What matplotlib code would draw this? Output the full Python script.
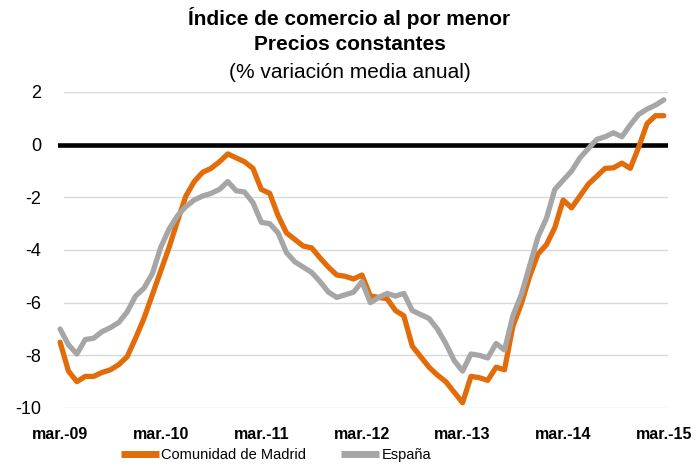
import matplotlib
matplotlib.use("Agg")
import matplotlib.pyplot as plt
from matplotlib.lines import Line2D
import numpy as np

plt.rcParams['font.family'] = ['Liberation Sans', 'DejaVu Sans']

tick_labels = ["mar.-09", "mar.-10", "mar.-11", "mar.-12", "mar.-13", "mar.-14", "mar.-15"]

madrid = [-7.5, -8.6, -9.0, -8.8, -8.8, -8.65, -8.55, -8.35, -8.05, -7.35,
          -6.6, -5.7, -4.8, -3.9, -2.9, -1.95, -1.4, -1.05, -0.9, -0.65,
          -0.35, -0.5, -0.65, -0.9, -1.7, -1.85, -2.7, -3.35, -3.6, -3.85,
          -3.92, -4.3, -4.65, -4.95, -5.0, -5.1, -4.95, -5.75, -5.8, -5.85,
          -6.3, -6.5, -7.65, -8.05, -8.45, -8.75, -9.0, -9.4, -9.8, -8.8,
          -8.85, -8.95, -8.45, -8.55, -6.9, -6.05, -5.0, -4.15, -3.8, -3.15,
          -2.1, -2.4, -1.95, -1.5, -1.2, -0.9, -0.88, -0.7, -0.9, -0.1,
          0.8, 1.1, 1.1]

espana = [-7.0, -7.6, -7.95, -7.4, -7.35, -7.1, -6.95, -6.75, -6.35, -5.75,
          -5.45, -4.9, -3.9, -3.2, -2.7, -2.35, -2.1, -1.95, -1.85, -1.7,
          -1.4, -1.75, -1.8, -2.2, -2.95, -3.0, -3.35, -4.1, -4.45, -4.65,
          -4.85, -5.2, -5.6, -5.8, -5.7, -5.6, -5.2, -6.0, -5.8, -5.65,
          -5.75, -5.65, -6.3, -6.45, -6.6, -7.0, -7.55, -8.2, -8.6, -7.95,
          -8.0, -8.1, -7.55, -7.8, -6.5, -5.7, -4.6, -3.5, -2.8, -1.7,
          -1.35, -1.0, -0.5, -0.15, 0.2, 0.3, 0.45, 0.3, 0.75, 1.15,
          1.35, 1.5, 1.7]

y_ticks = [2, 0, -2, -4, -6, -8, -10]

c_mad = "#E36C0A"
c_esp = "#A6A6A6"

fig = plt.figure(figsize=(6.99, 4.66), dpi=100)
ax = fig.add_axes([58/699, 1-408/466, (668-58)/699, (408-92)/466])

x = np.arange(len(madrid))
ax.set_xlim(-0.25, 72.5)
ax.set_ylim(-10, 2)

for yt in y_ticks:
    if yt != 0:
        ax.axhline(yt, color="#D9D9D9", lw=1.0, zorder=1, xmin=6/610)
ax.axhline(0, color="black", lw=3.3, zorder=2)

ax.plot(x, madrid, color=c_mad, lw=3.8, solid_joinstyle='round', solid_capstyle='round', zorder=3, clip_on=False)
ax.plot(x, espana, color=c_esp, lw=3.8, solid_joinstyle='round', solid_capstyle='round', zorder=4, clip_on=False)

ax.set_yticks(y_ticks)
ax.set_yticklabels([str(v) for v in y_ticks], fontsize=13)
ax.set_xticks(np.arange(0, 73, 12))
ax.set_xticklabels(tick_labels, fontsize=11.5, fontweight='bold')
ax.tick_params(axis='both', length=0)
ax.tick_params(axis='y', pad=12)
ax.tick_params(axis='x', pad=14)
for s in ax.spines.values():
    s.set_visible(False)

fig.text(0.5, 1-18/466, "Índice de comercio al por menor", ha='center', va='center', fontsize=15, fontweight='bold')
fig.text(0.5, 1-45/466, "Precios constantes", ha='center', va='center', fontsize=15, fontweight='bold')
fig.text(0.5, 1-72/466, "(% variación media anual)", ha='center', va='center', fontsize=15)

handles = [Line2D([], [], color=c_mad, lw=5, solid_capstyle='butt'),
           Line2D([], [], color=c_esp, lw=5, solid_capstyle='butt')]
fig.legend(handles, ["Comunidad de Madrid", "España"], loc='center',
           bbox_to_anchor=(276/699, 1-455/466), ncol=2, frameon=False,
           fontsize=10.5, handlelength=2.6, handletextpad=0.15, columnspacing=2.4)

fig.savefig("out.png", dpi=100)
